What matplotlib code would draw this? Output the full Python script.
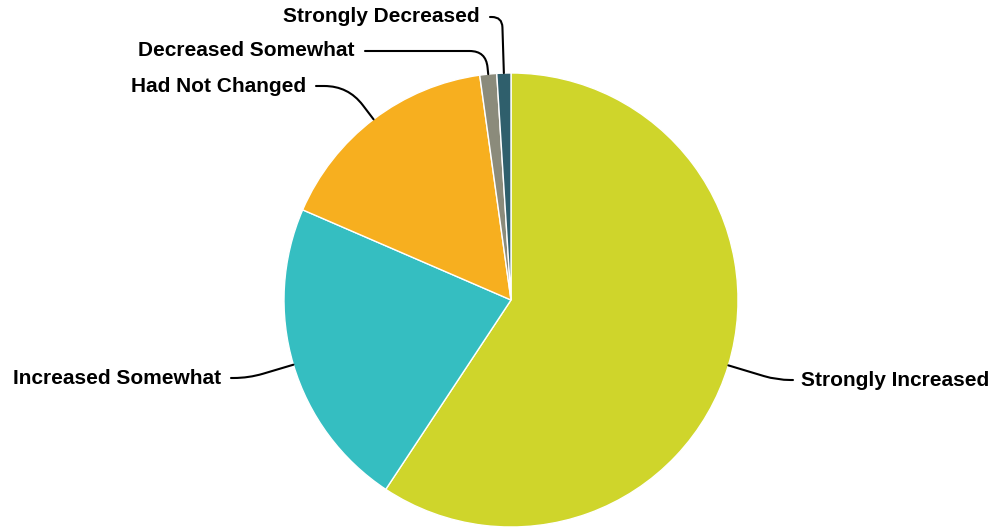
import numpy as np
import matplotlib.pyplot as plt
from matplotlib.path import Path
from matplotlib.patches import PathPatch

plt.rcParams['font.family'] = ['Liberation Sans', 'DejaVu Sans']

labels = ["Strongly Increased", "Increased Somewhat", "Had Not Changed",
          "Decreased Somewhat", "Strongly Decreased"]
values = [59.3, 22.2, 16.3, 1.2, 1.0]
colors = ["#CFD52B", "#35BEC1", "#F7AF1F", "#8B8B7B", "#2F5F6C"]

# label anchor points (pixels from top-left) and side
label_pos = [(801, 380, "left"), (221, 378, "right"), (306, 86, "right"),
             (355, 51, "right"), (480, 17, "right")]

W, H = 994, 529
cx, cy, R = 511, H - 300, 227

fig = plt.figure(figsize=(W / 100, H / 100), dpi=100)
ax = fig.add_axes([0, 0, 1, 1])

wedges, _ = ax.pie(values, colors=colors, startangle=90, counterclock=False,
                   center=(cx, cy), radius=R,
                   wedgeprops=dict(edgecolor="white", linewidth=1))
ax.set_xlim(0, W)
ax.set_ylim(0, H)
ax.set_aspect("equal")
ax.axis("off")

for w, lab, (tx, ty, side) in zip(wedges, labels, label_pos):
    ang = np.deg2rad((w.theta1 + w.theta2) / 2)
    ux, uy = np.cos(ang), np.sin(ang)
    ex, ey = cx + R * ux, cy + R * uy
    ly = H - ty
    # corner where the radial line meets the label height
    t = (ly - ey) / uy
    kx, ky = ex + t * ux, ly
    sx = tx - 8 if side == "left" else tx + 10
    # rounded corner
    r = min(24, abs(sx - kx) * 0.85, t * 0.7)
    p1 = (kx + np.sign(sx - kx) * r, ky)
    p2 = (kx - ux * r, ky - uy * r)
    verts = [(sx, ly), p1, (kx, ky), p2, (ex, ey)]
    codes = [Path.MOVETO, Path.LINETO, Path.CURVE3, Path.CURVE3, Path.LINETO]
    ax.add_patch(PathPatch(Path(verts, codes), fill=False, lw=1.5,
                           edgecolor="black", capstyle="round"))
    ax.text(tx, ly, lab, ha=side, va="center", fontsize=15,
            fontweight="bold", color="black")

fig.savefig("out.png", dpi=100)
